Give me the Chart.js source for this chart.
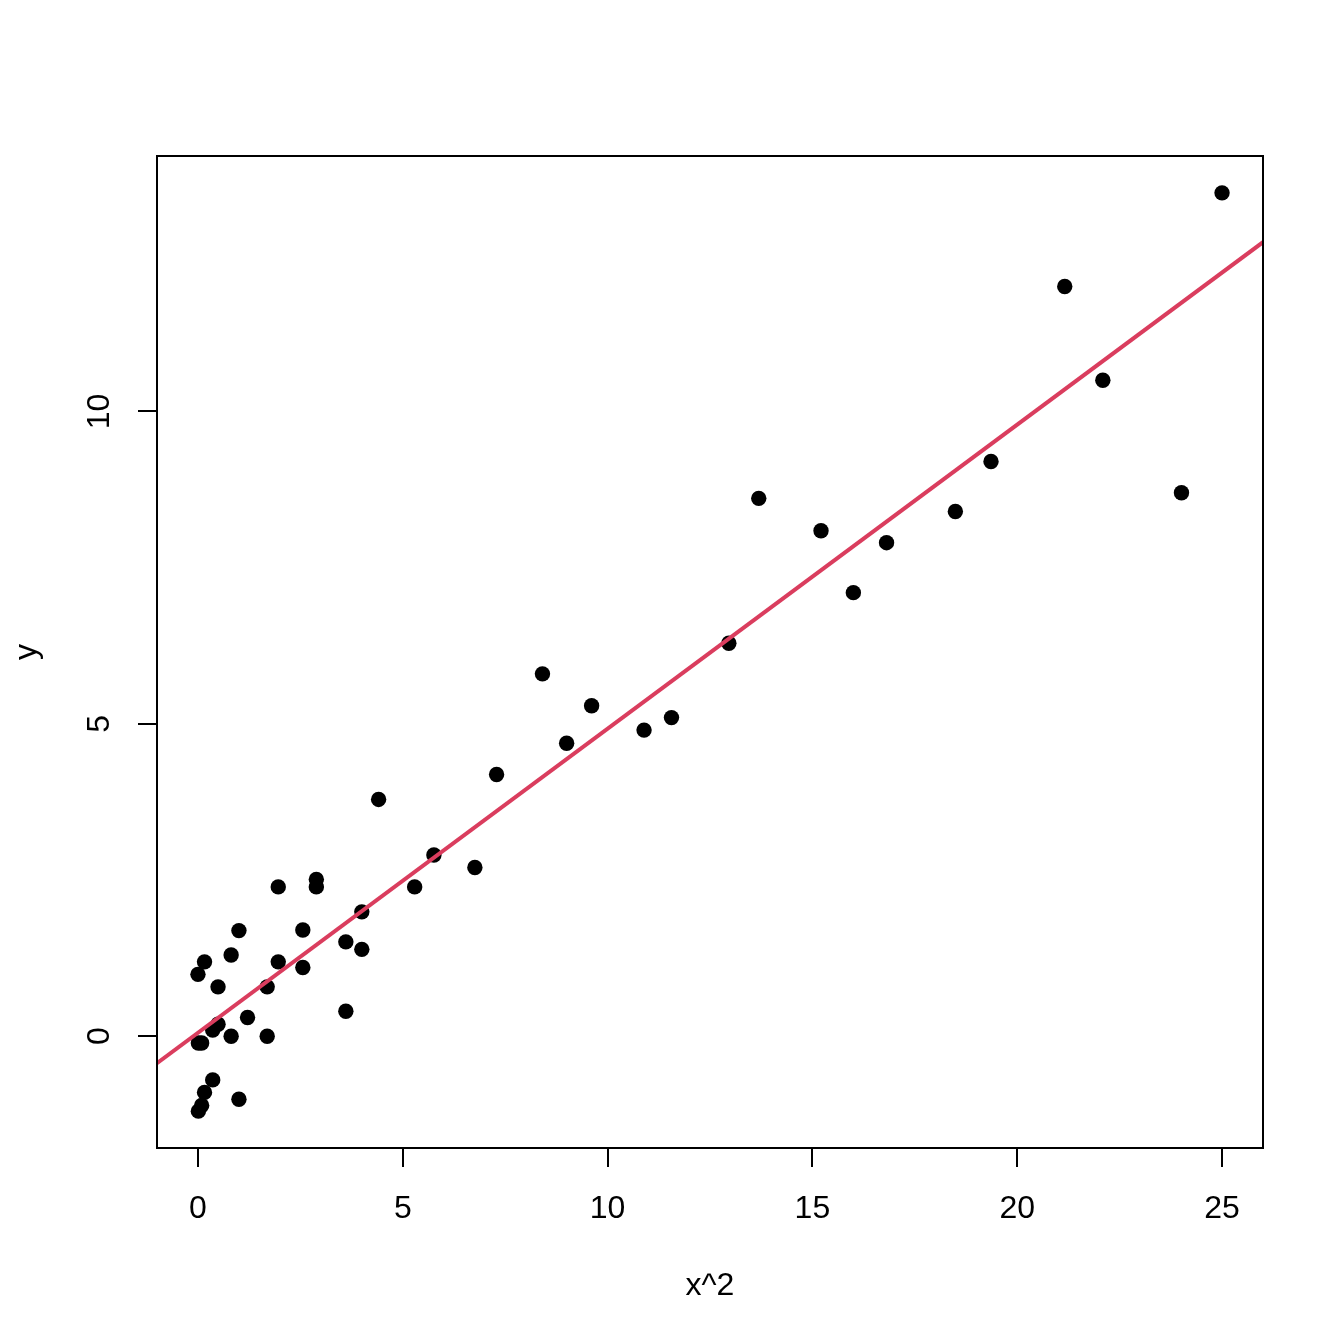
<!DOCTYPE html>
<html>
<head>
<meta charset="utf-8">
<script src="https://cdn.jsdelivr.net/npm/chart.js@4/dist/chart.umd.min.js"></script>
<style>
  html, body { margin: 0; padding: 0; background: #ffffff; }
  #wrap { width: 1344px; height: 1344px; }
</style>
</head>
<body>
<div id="wrap"><canvas id="c" width="1344" height="1344"></canvas></div>
<script>
// x^2 values of the observations
const xSquared = [25, 24.01, 22.09, 21.16, 19.36, 18.49, 16.81, 16.00, 15.21, 13.69,
  12.96, 11.56, 10.89, 9.61, 9.00, 8.41, 7.29, 6.76, 5.76, 5.29,
  4.41, 4.00, 4.00, 3.61, 3.61, 2.89, 2.89, 2.56, 2.56, 1.96,
  1.96, 1.69, 1.69, 1.21, 1.00, 1.00, 0.81, 0.81, 0.49, 0.49,
  0.36, 0.36, 0.16, 0.16, 0.09, 0.01, 0.00, 0.09, 0.01];
// y values of the observations
const yValues = [13.50, 8.70, 10.50, 12.00, 9.20, 8.40, 7.90, 7.10, 8.09, 8.61,
  6.29, 5.10, 4.90, 5.29, 4.69, 5.80, 4.19, 2.70, 2.90, 2.39,
  3.79, 1.99, 1.39, 1.51, 0.40, 2.51, 2.39, 1.70, 1.10, 2.39,
  1.19, 0.79, 0.00, 0.30, 1.69, -1.01, 1.30, 0.00, 0.79, 0.19,
  0.10, -0.70, 1.19, -0.90, -0.11, -0.11, 0.99, -1.11, -1.20];
// fitted regression line endpoints (at the plot edges)
const fitX = [-1, 26];
const fitY = [-0.433, 12.71];
// axis ticks
const xTicks = [0, 5, 10, 15, 20, 25];
const yTicks = [0, 5, 10];
const xRange = [-1, 26];
const yRange = [-1.79, 14.09];

const FONT = "'Liberation Sans', Arial, Helvetica, sans-serif";

const points = xSquared.map((x, i) => ({ x: x, y: yValues[i] }));
const fitLine = fitX.map((x, i) => ({ x: x, y: fitY[i] }));

const rPlot = {
  id: 'rPlot',
  afterDraw(chart) {
    const ctx = chart.ctx;
    const a = chart.chartArea;
    ctx.save();
    ctx.strokeStyle = '#000';
    ctx.lineWidth = 2;
    ctx.strokeRect(a.left, a.top, a.right - a.left, a.bottom - a.top);
    // rotated y tick labels (R style)
    const ys = chart.scales.y;
    ctx.fillStyle = '#000';
    ctx.font = '32px ' + FONT;
    ctx.textAlign = 'center';
    ctx.textBaseline = 'middle';
    ys.ticks.forEach(t => {
      const py = ys.getPixelForValue(t.value);
      ctx.save();
      ctx.translate(100, py);
      ctx.rotate(-Math.PI / 2);
      ctx.fillText(String(t.value), 0, 0);
      ctx.restore();
    });
    ctx.restore();
  }
};

new Chart(document.getElementById('c'), {
  type: 'scatter',
  data: {
    datasets: [
      {
        type: 'line',
        data: fitLine,
        borderColor: '#DA3D5E',
        borderWidth: 4,
        pointRadius: 0,
        fill: false,
        order: 0
      },
      {
        data: points,
        backgroundColor: '#000',
        borderWidth: 0,
        pointRadius: 7.7,
        pointHoverRadius: 7.7,
        order: 1
      }
    ]
  },
  options: {
    responsive: false,
    devicePixelRatio: 1,
    animation: false,
    events: [],
    layout: { padding: { left: 0, top: 156, right: 81, bottom: 0 } },
    plugins: { legend: { display: false }, tooltip: { enabled: false } },
    scales: {
      x: {
        type: 'linear',
        min: xRange[0],
        max: xRange[1],
        afterBuildTicks: s => { s.ticks = xTicks.map(v => ({ value: v })); },
        afterFit: s => { s.height = 196; },
        border: { display: false },
        grid: { display: true, drawOnChartArea: false, drawTicks: true, tickLength: 19, tickColor: '#000', tickWidth: 2, color: '#000', lineWidth: 2 },
        ticks: { color: '#000', font: { family: FONT, size: 32 }, padding: 23, maxRotation: 0, autoSkip: false },
        title: { display: true, text: 'x^2', color: '#000', font: { family: FONT, size: 32 }, padding: { top: 0, bottom: 39 } }
      },
      y: {
        type: 'linear',
        min: yRange[0],
        max: yRange[1],
        afterBuildTicks: s => { s.ticks = yTicks.map(v => ({ value: v })); },
        afterFit: s => { s.width = 157; },
        border: { display: false },
        grid: { display: true, drawOnChartArea: false, drawTicks: true, tickLength: 19, tickColor: '#000', tickWidth: 2, color: '#000', lineWidth: 2 },
        ticks: { display: false },
        title: { display: true, text: 'y', color: '#000', font: { family: FONT, size: 32 }, padding: { top: 8, bottom: 0 } }
      }
    }
  },
  plugins: [rPlot]
});
</script>
</body>
</html>
